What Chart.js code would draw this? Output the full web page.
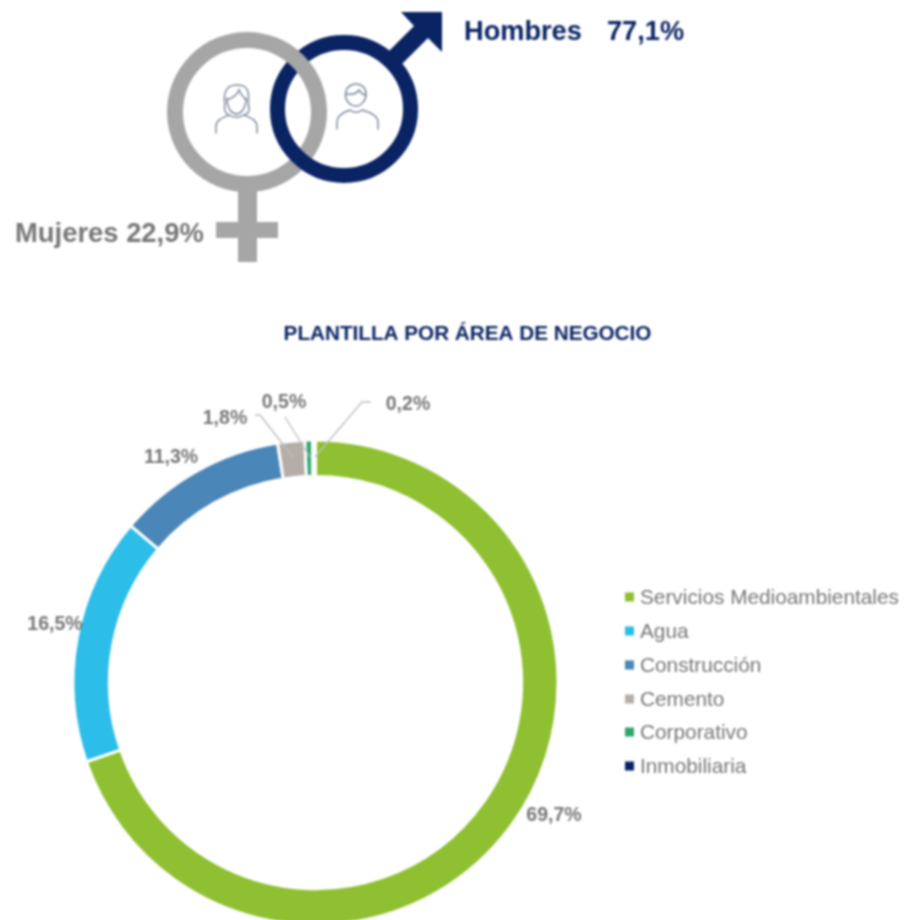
<!DOCTYPE html>
<html lang="es">
<head>
<meta charset="utf-8">
<title>Plantilla por área de negocio</title>
<style>
  html, body { margin: 0; padding: 0; width: 906px; height: 920px; overflow: hidden; background: #fff; }
  canvas { display: block; filter: blur(0.9px); }
</style>
<script src="https://cdn.jsdelivr.net/npm/chart.js@4/dist/chart.umd.min.js"></script>
</head>
<body>
<canvas id="area-chart" width="906" height="940"></canvas>
<script>
// Chart data
const areas = ["Servicios Medioambientales", "Agua", "Construcción", "Cemento", "Corporativo", "Inmobiliaria"];
const shares = [69.7, 16.5, 11.3, 1.8, 0.5, 0.2];
const genders = ["Hombres", "Mujeres"];
const genderShares = [77.1, 22.9];
const chartTitle = "PLANTILLA POR ÁREA DE NEGOCIO";

// Styles and positions
const areaColors = ["#8FC031", "#2CBDE8", "#4A86B8", "#B5AEA8", "#2FA56D", "#0B2265"];
const navy = "#0A2463";
const grey = "#A6A6A6";
const textGrey = "#777777";
const labelSpots = [[554, 815.5], [55, 624.5], [171, 457.5], [225, 418.5], [284, 402.5], [408, 404.5]];
const leaders = [
  null, null, null,
  [[255, 415], [260, 415], [293, 457]],
  [[285, 417], [310, 457]],
  [[371, 402], [362, 402], [315, 457]],
];
const legendRows = [598, 632, 666, 700, 733, 767];

const formatShare = (value) => value.toFixed(1).replace(".", ",") + "%";

// Draws the two gender symbols with the person icons
const drawSymbols = (ctx) => {
  const ring = (x, y, r, width, color, from = 0, to = Math.PI * 2) => {
    ctx.beginPath();
    ctx.arc(x, y, r, from, to);
    ctx.lineWidth = width;
    ctx.strokeStyle = color;
    ctx.stroke();
  };

  // Venus
  ctx.fillStyle = grey;
  ctx.fillRect(238, 188, 19, 74);
  ctx.fillRect(216, 222, 62, 16);
  ring(247, 112, 72, 16, grey);

  // Mars
  ctx.fillStyle = navy;
  ctx.fill(new Path2D("M388 52 L414 26 L401 12 L442 12 L442 52 L428 38 L402 64 Z"));
  ring(344, 109, 66.5, 15, navy);

  // The grey ring passes over the navy one at the upper crossing
  ring(247, 112, 72, 16, grey, -1.2, -0.35);

  ctx.lineWidth = 1.5;
  ctx.strokeStyle = "#7F8B9E";
  ctx.lineCap = "round";
  // Woman
  ctx.stroke(new Path2D("M216 133 V127 C216 120 222 118 229 115 M257 133 V127 C257 120 251 118 244 115"));
  ctx.stroke(new Path2D("M227 98 C227 110 233 114 236.5 114 C240 114 246 110 246 98"));
  ctx.stroke(new Path2D("M227 100 C233 98 237 95 239 90 C241 95 244 98 246 100"));
  ctx.stroke(new Path2D("M229 115 C224 113 224 108 225 104 C223 94 226 85 236 85 C241 85 246 85 248 92 C250 98 247 102 249 108 C250 112 247 114 244 115 M229 115 C233 118 240 118 244 115"));
  // Man
  ctx.stroke(new Path2D("M345.5 95 C345.5 88 350 84 356 84 C362 84 366 88 366 94 C366 101 361 106 356 106 C350 106 345.5 101 345.5 95 Z"));
  ctx.stroke(new Path2D("M346 94 C352 95 357 93 359 90 C361 93 363 95 366 95"));
  ctx.stroke(new Path2D("M337 129 V122 C337 115 344 112 350 110 C353 113 359 113 362 110 C369 112 378 115 378 122 V129"));
  ctx.lineCap = "butt";
};

// Draws the texts around the doughnut and the side legend
const chartExtras = {
  id: "chartExtras",
  afterDatasetsDraw(chart) {
    const { ctx } = chart;
    ctx.save();

    drawSymbols(ctx);

    ctx.textBaseline = "middle";
    ctx.textAlign = "left";
    ctx.font = "bold 27.2px 'Liberation Sans'";
    ctx.fillStyle = navy;
    ctx.fillText(genders[0], 464, 33);
    ctx.fillText(formatShare(genderShares[0]), 607, 33);
    ctx.fillStyle = textGrey;
    ctx.font = "bold 27.4px 'Liberation Sans'";
    ctx.fillText(genders[1] + " " + formatShare(genderShares[1]), 15, 234);

    ctx.font = "bold 20.7px 'Liberation Sans'";
    ctx.textAlign = "center";
    ctx.fillStyle = navy;
    ctx.fillText(chartTitle, 467.5, 334);

    // Leader lines and value labels
    ctx.strokeStyle = "#BFBFBF";
    ctx.lineWidth = 1.4;
    leaders.forEach((line) => {
      if (!line) return;
      ctx.beginPath();
      line.forEach(([x, y], i) => (i ? ctx.lineTo(x, y) : ctx.moveTo(x, y)));
      ctx.stroke();
    });
    ctx.font = "bold 19.5px 'Liberation Sans'";
    ctx.fillStyle = textGrey;
    shares.forEach((share, i) => {
      ctx.fillText(formatShare(share), labelSpots[i][0], labelSpots[i][1]);
    });

    // Legend
    ctx.textAlign = "left";
    ctx.font = "20.8px 'Liberation Sans'";
    areas.forEach((area, i) => {
      ctx.fillStyle = areaColors[i];
      ctx.fillRect(625, legendRows[i] - 5.5, 9, 9);
      ctx.fillStyle = textGrey;
      ctx.fillText(area, 640, legendRows[i]);
    });

    ctx.restore();
  },
};

new Chart(document.querySelector("#area-chart"), {
  type: "doughnut",
  data: {
    labels: areas,
    datasets: [
      {
        data: shares,
        backgroundColor: areaColors,
        borderColor: "#FFFFFF",
        borderWidth: 3,
      },
    ],
  },
  options: {
    responsive: false,
    animation: false,
    cutout: "85%",
    layout: { padding: { left: 71.5, right: 346.5, top: 438.5, bottom: 13.5 } },
    plugins: {
      legend: { display: false },
      tooltip: { enabled: false },
    },
  },
  plugins: [chartExtras],
});
</script>
</body>
</html>
